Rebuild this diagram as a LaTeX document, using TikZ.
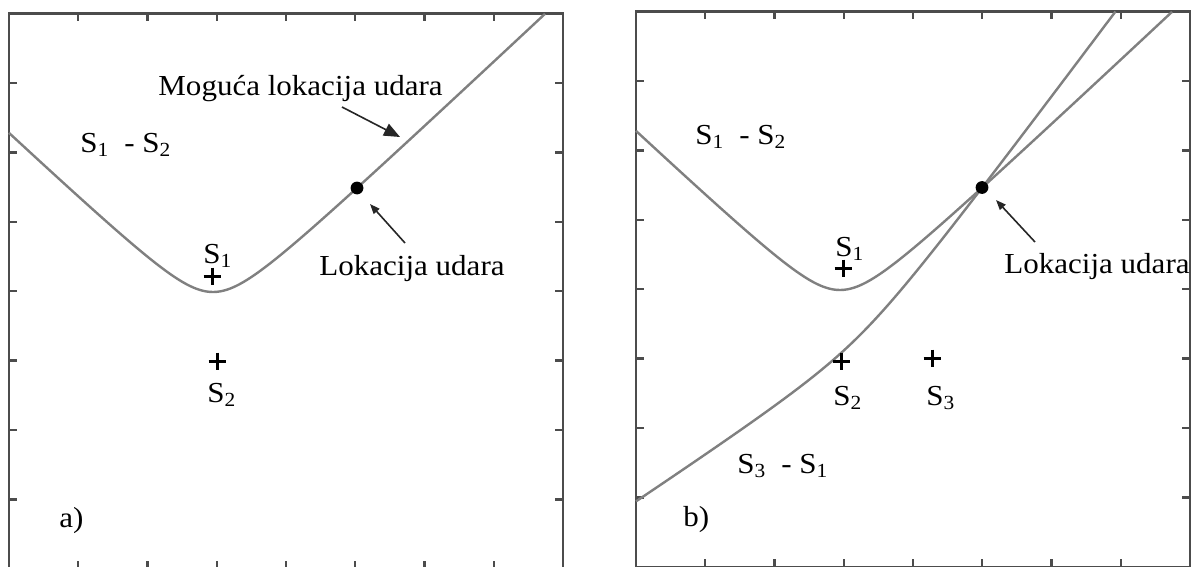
\documentclass[tikz,border=0pt]{standalone}
\usepackage{fontspec}
\setmainfont{Liberation Serif}[FakeStretch=1.07]
\usetikzlibrary{arrows.meta}
\newcommand{\subidx}[1]{\raisebox{-2pt}{\fontsize{10}{10}\selectfont #1}}
\newcommand{\panelframe}[4]{%
  \draw[frame] (#1,#2) rectangle (#3,#4);
  \foreach \k in {1,...,7}{
    \draw[tick] ({#1+\k*(#3-#1)/8},#2) -- ++(0,8);
    \draw[tick] ({#1+\k*(#3-#1)/8},#4) -- ++(0,-8);
    \draw[tick] (#1,{#2+\k*(#4-#2)/8}) -- ++(8,0);
    \draw[tick] (#3,{#2+\k*(#4-#2)/8}) -- ++(-8,0);
  }}
\begin{document}
\begin{tikzpicture}[x=0.5pt,y=-0.5pt,
  frame/.style={draw=black!70, line width=1.3pt},
  tick/.style={draw=black!70, line width=1.2pt},
  curve/.style={draw=black!50, line width=1.2pt},
  lbl/.style={anchor=base west, inner sep=0pt, font=\fontsize{14.5}{17}\selectfont},
  ptr/.style={draw=black!85, line width=0.8pt, -{Triangle[length=5pt,width=3.8pt]}},
  bigptr/.style={draw=black!85, line width=0.8pt, -{Triangle[length=8pt,width=6.5pt]}},
  dotmark/.style={circle, fill=black, inner sep=0pt, minimum size=6.4pt},
  crossmark/.pic={\draw[line width=1.5pt] (-8.5,0) -- (8.5,0) (0,-8.5) -- (0,8.5);}
]
\useasboundingbox (0,0) rectangle (1193,567);
\clip (0,0) rectangle (1193,567);
\fill[white] (0,0) rectangle (1193,567);

% ---------- panel a ----------
\panelframe{9}{13.5}{563}{569}
\draw[curve] plot[domain=9:545, samples=161]
  (\x, {328 - 100*sqrt(0.1296 + 0.8836*((\x-213)/100)*((\x-213)/100))});
\node[dotmark] (hitA) at (357,188) {};
\pic at (212,276) {crossmark};
\pic at (217,361) {crossmark};
\node[lbl] (mogA) at (158,96) {Moguća lokacija udara};
\node[lbl] (difA) at (80,152) {S\subidx{1}\hspace{0.55em}- S\subidx{2}};
\node[lbl] (s1A) at (203,263) {S\subidx{1}};
\node[lbl] (lokA) at (319,275) {Lokacija udara};
\node[lbl] (s2A) at (207,402) {S\subidx{2}};
\node[lbl] (tagA) at (59,527) {a)};
\coordinate (mA1) at (342,107);
\coordinate (mA2) at (400,137);
\coordinate (lA1) at (405,243);
\coordinate (lA2) at (370,204);
\draw[bigptr] (mA1) -- (mA2);
\draw[ptr] (lA1) -- (lA2);

% ---------- panel b ----------
\panelframe{636}{11.5}{1190}{567}
\draw[curve] plot[domain=636:1172, samples=161]
  (\x, {326 - 100*sqrt(0.1296 + 0.8836*((\x-840)/100)*((\x-840)/100))});
\draw[curve] plot[domain=1.477:5.56, samples=200, variable=\s]
  ({860+exp(\s)-1000/exp(\s)}, {356.5-1.34*exp(\s)+660/exp(\s)});
\node[dotmark] (hitB) at (982,187.5) {};
\pic at (843,268) {crossmark};
\pic at (841,361) {crossmark};
\pic at (932,358) {crossmark};
\node[lbl] (difB) at (695,144) {S\subidx{1}\hspace{0.55em}- S\subidx{2}};
\node[lbl] (s1B) at (835,256) {S\subidx{1}};
\node[lbl] (lokB) at (1004,273) {Lokacija udara};
\node[lbl] (s2B) at (833,405) {S\subidx{2}};
\node[lbl] (s3B) at (926,405) {S\subidx{3}};
\node[lbl] (difC) at (737,473) {S\subidx{3}\hspace{0.55em}- S\subidx{1}};
\node[lbl] (tagB) at (683,526) {b)};
\coordinate (rB1) at (1035,242);
\coordinate (rB2) at (996,200);
\draw[ptr] (rB1) -- (rB2);
\end{tikzpicture}
\end{document}
